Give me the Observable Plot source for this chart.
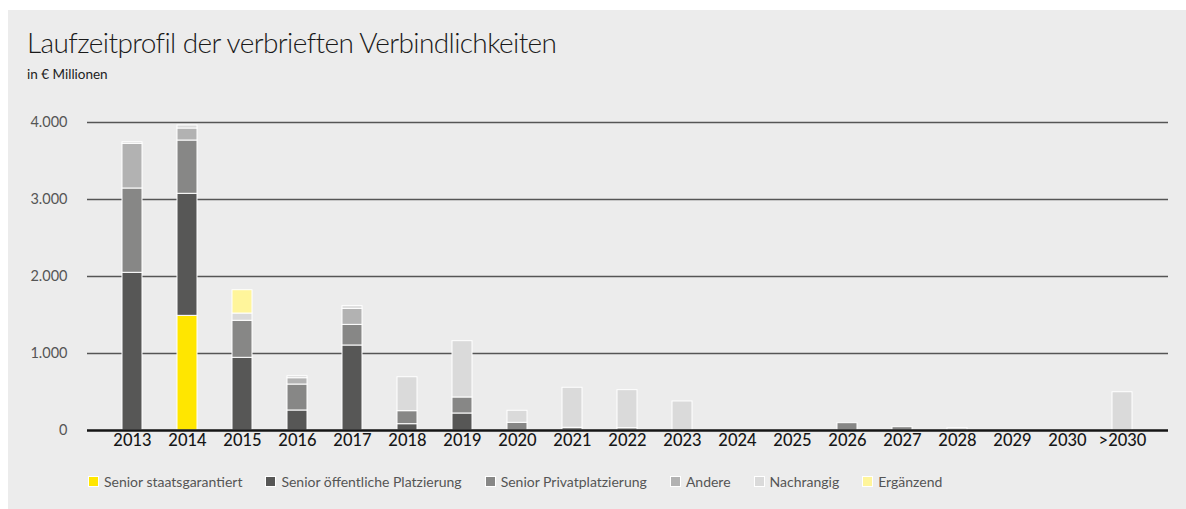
<!DOCTYPE html>
<html>
<head>
<meta charset="utf-8">
<script src="https://cdn.jsdelivr.net/npm/d3@7"></script>
<script src="https://cdn.jsdelivr.net/npm/@observablehq/plot@0.6"></script>
<style>
  html, body { margin: 0; padding: 0; background: #ffffff; }
  body { width: 1186px; height: 509px; position: relative; overflow: hidden; font-family: Lato, "Noto Sans", sans-serif; }
  #panel { position: absolute; left: 8px; top: 10px; width: 1178px; height: 499px; background: #ececec; }
  #title { position: absolute; left: 27px; top: 25px; font-size: 28px; font-weight: 300; color: #1a1a1a; white-space: nowrap; letter-spacing: -0.6px; }
  #subtitle { position: absolute; left: 27px; top: 66px; font-size: 13.5px; color: #222; white-space: nowrap; }
  #chart { position: absolute; left: 0; top: 100px; }
  #legend { position: absolute; left: 88px; top: 473px; font-size: 14px; color: #555; white-space: nowrap; display: flex; }
  .item { display: flex; align-items: center; margin-right: 23px; }
  .sw { width: 11px; height: 11px; border: 1px solid #fff; margin-right: 5px; box-sizing: border-box; }
</style>
</head>
<body>
<div id="panel"></div>
<div id="title">Laufzeitprofil der verbrieften Verbindlichkeiten</div>
<div id="subtitle">in € Millionen</div>
<div id="chart"></div>
<div id="legend"></div>
<script>
const categories = ["2013","2014","2015","2016","2017","2018","2019","2020","2021","2022","2023","2024","2025","2026","2027","2028","2029","2030",">2030"];
const seriesNames = ["Senior staatsgarantiert","Senior öffentliche Platzierung","Senior Privatplatzierung","Andere","Nachrangig","Ergänzend"];
const seriesColors = ["#ffe600","#575756","#878786","#b2b2b2","#dadada","#fff59b"];
const staatsgarantiert = [0,1489,0,0,0,0,0,0,0,0,0,0,0,0,0,0,0,0,0];
const oeffentlich      = [2048,1585,944,260,1104,82,221,0,0,0,0,0,0,0,0,0,0,0,0];
const privat           = [1095,692,481,337,268,169,208,100,35,30,0,0,0,95,43,0,0,0,0];
const andere           = [580,156,0,82,208,0,0,0,0,0,0,0,0,0,0,0,0,0,0];
const nachrangig       = [21,39,94,26,35,441,731,156,520,494,377,0,0,0,0,30,0,0,497];
const ergaenzend       = [0,0,303,0,0,0,0,0,0,0,0,0,0,0,0,0,0,0,0];
const yTicks = [0,1000,2000,3000,4000];

const seriesValues = [staatsgarantiert, oeffentlich, privat, andere, nachrangig, ergaenzend];
const data = [];
seriesNames.forEach((s, si) => {
  categories.forEach((c, ci) => {
    data.push({year: c, series: s, value: seriesValues[si][ci]});
  });
});

const de = d3.formatLocale({decimal: ",", thousands: ".", grouping: [3], currency: ["", " €"]});
const fmt = de.format(",");

const chart = Plot.plot({
  width: 1186,
  height: 355,
  marginTop: 22,
  marginBottom: 25,
  marginLeft: 87,
  marginRight: 18,
  style: {background: "transparent", fontFamily: "Lato, 'Noto Sans', sans-serif"},
  x: {domain: categories, padding: 0.63, align: 0.5, label: null},
  y: {domain: [0, 4000], label: null},
  color: {domain: seriesNames, range: seriesColors},
  marks: [
    Plot.ruleY(yTicks.filter(d => d > 0), {stroke: "#555", strokeWidth: 1.5}),
    Plot.barY(data, Plot.stackY({order: seriesNames}, {x: "year", y: "value", fill: "series", stroke: "#ffffff", strokeWidth: 1})),
    Plot.ruleY([0], {stroke: "#151515", strokeWidth: 2.5}),
    Plot.axisX({tickSize: 0, tickPadding: 4, fontSize: 16.5, fontWeight: 500, fill: "#151515", label: null}),
    Plot.axisY({ticks: yTicks, tickFormat: fmt, tickSize: 0, tickPadding: 20, fontSize: 14.5, fill: "#555", label: null})
  ]
});
document.getElementById("chart").appendChild(chart);

const legend = document.getElementById("legend");
seriesNames.forEach((s, i) => {
  const it = document.createElement("div");
  it.className = "item";
  const sw = document.createElement("span");
  sw.className = "sw";
  sw.style.background = seriesColors[i];
  const tx = document.createElement("span");
  tx.textContent = s;
  it.appendChild(sw);
  it.appendChild(tx);
  legend.appendChild(it);
});
</script>
</body>
</html>
